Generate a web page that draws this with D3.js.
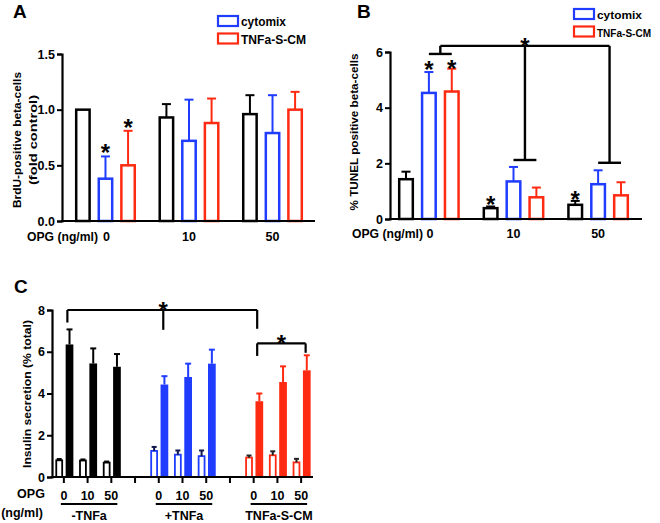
<!DOCTYPE html>
<html><head><meta charset="utf-8">
<script src="https://cdn.jsdelivr.net/npm/d3@7"></script>
<style>
html,body{margin:0;padding:0;background:#fff;}
svg text{font-family:"Liberation Sans",Arial,sans-serif;font-weight:bold;}
</style></head>
<body>
<svg id="c" width="660" height="523"></svg>
<script>
// ---------- DATA ----------
const opgLevels = ["0", "10", "50"];
const seriesAB = ["control", "cytomix", "TNFa-S-CM"];
const legendLabels = ["cytomix", "TNFa-S-CM"];

// Panel A: BrdU-positive beta-cells (fold control)
const brduMean = {control: [1.0, 0.93, 0.96], cytomix: [0.38, 0.72, 0.79], "TNFa-S-CM": [0.50, 0.88, 1.00]};
const brduErr  = {control: [0.0, 0.12, 0.17], cytomix: [0.20, 0.37, 0.34], "TNFa-S-CM": [0.31, 0.22, 0.16]};
const ticksA = [0, 0.5, 1.0, 1.5];

// Panel B: % TUNEL positive beta-cells
const tunelMean = {control: [1.43, 0.39, 0.51], cytomix: [4.53, 1.35, 1.25], "TNFa-S-CM": [4.58, 0.78, 0.85]};
const tunelErr  = {control: [0.27, 0.06, 0.14], cytomix: [0.75, 0.52, 0.50], "TNFa-S-CM": [0.82, 0.35, 0.47]};
const ticksB = [0, 2, 4, 6];

// Panel C: Insulin secretion (% total)
const conditionsC = ["-TNFa", "+TNFa", "TNFa-S-CM"];
const basalMean = [[0.80, 0.79, 0.69], [1.25, 1.07, 1.00], [0.93, 1.04, 0.70]];
const basalErr  = [[0.06, 0.05, 0.05], [0.19, 0.20, 0.27], [0.10, 0.19, 0.17]];
const stimMean  = [[6.35, 5.44, 5.28], [4.43, 4.79, 5.43], [3.63, 4.55, 5.11]];
const stimErr   = [[0.72, 0.72, 0.61], [0.40, 0.64, 0.67], [0.37, 0.75, 0.72]];
const ticksC = [0, 2, 4, 6, 8];

const colors = {control: "#000000", cytomix: "#1f3cff", "TNFa-S-CM": "#ff2a12"};
const colorC = ["#000000", "#1f3cff", "#ff2a12"];

// ---------- DRAW ----------
const svg = d3.select("#c");

function yAxis(g, y, ticks, fmt, x0) {
  const ax = g.append("g").attr("transform", `translate(${x0},0)`)
    .call(d3.axisLeft(y).tickValues(ticks).tickFormat(fmt).tickSize(5).tickPadding(2));
  ax.select(".domain").attr("stroke", "#000").attr("stroke-width", 2.2);
  ax.selectAll(".tick line").attr("stroke-width", 2);
  ax.selectAll("text").attr("font-size", 12.5).attr("fill", "#000").style("font-weight", "bold");
  return ax;
}

function errBar(g, cx, yTop, yErr, color, cap) {
  g.append("line").attr("x1", cx).attr("x2", cx).attr("y1", yTop).attr("y2", yErr)
    .attr("stroke", color).attr("stroke-width", 2);
  g.append("line").attr("x1", cx - cap / 2).attr("x2", cx + cap / 2).attr("y1", yErr).attr("y2", yErr)
    .attr("stroke", color).attr("stroke-width", 2);
}

// star centred at (x, cy)
function star(g, x, cy) {
  g.append("text").attr("x", x).attr("y", cy + 13).attr("text-anchor", "middle")
    .attr("font-size", 24).attr("fill", "#000").text("*");
}

function txt(g, x, y, s, size, len, anchor) {
  const t = g.append("text").attr("x", x).attr("y", y).attr("font-size", size).text(s);
  if (anchor) t.attr("text-anchor", anchor);
  if (len) t.attr("textLength", len).attr("lengthAdjust", "spacingAndGlyphs");
  return t;
}

function vlabel(g, x, cy, s, size, len) {
  g.append("text").attr("transform", `translate(${x},${cy}) rotate(-90)`).attr("text-anchor", "middle")
    .attr("font-size", size).attr("textLength", len).attr("lengthAdjust", "spacingAndGlyphs").text(s);
}

function legend(g, x, y, lens, size) {
  legendLabels.forEach((s, i) => {
    g.append("rect").attr("x", x).attr("y", y + i * 17.5).attr("width", 20).attr("height", 10)
      .attr("fill", "none").attr("stroke", colors[s]).attr("stroke-width", 2.2);
    txt(g, x + 23, y + i * 17.5 + 10, s, size, lens[i]);
  });
}

function groupedPanel(opts) {
  const g = svg.append("g");
  const x = d3.scaleBand().domain(opgLevels).range(opts.xr).paddingInner(0.27).paddingOuter(0);
  const xi = d3.scaleBand().domain(seriesAB).range([0, x.bandwidth()]).paddingInner(0.3);
  const y = d3.scaleLinear().domain(opts.yd).range(opts.yr);
  seriesAB.forEach(s => {
    opgLevels.forEach((o, k) => {
      const bx = x(o) + xi(s), bw = xi.bandwidth();
      const v = opts.mean[s][k], e = opts.err[s][k];
      g.append("rect").attr("x", bx + 1.2).attr("y", y(v)).attr("width", bw - 2.4)
        .attr("height", y(0) - y(v)).attr("fill", "#fff").attr("stroke", colors[s]).attr("stroke-width", 2.5);
      if (e > 0) errBar(g, bx + bw / 2, y(v), y(v + e), colors[s], 9);
    });
  });
  yAxis(g, y, opts.ticks, opts.fmt, opts.ax[0]);
  g.append("line").attr("x1", opts.ax[0] - 1).attr("x2", opts.ax[1]).attr("y1", y(0)).attr("y2", y(0))
    .attr("stroke", "#000").attr("stroke-width", 2.2);
  opgLevels.forEach(o => {
    txt(g, x(o) + x.bandwidth() / 2 + (o === "0" ? 1 : 0), y(0) + opts.lblDy, o, 12.5, null, "middle");
  });
  txt(g, opts.opgX, y(0) + opts.lblDy, "OPG (ng/ml)", 12.5, opts.opgLen);
  return {g, x, xi, y};
}

// Panel A
const A = groupedPanel({xr: [75, 303], ax: [62, 315], yd: [0, 1.5], yr: [221, 54], mean: brduMean, err: brduErr,
  ticks: ticksA, fmt: d3.format(".1f"), opgX: 27, opgLen: 71, lblDy: 20});
vlabel(A.g, 21, 140, "BrdU-positive beta-cells", 11.5, 136);
vlabel(A.g, 37, 140, "(fold control)", 11.5, 90);
txt(A.g, 13, 17.5, "A", 19);
legend(A.g, 218, 16, [45, 65], 12.5);
{
  const cxs = s => A.x("0") + A.xi(s) + A.xi.bandwidth() / 2;
  star(A.g, cxs("cytomix"), A.y(brduMean.cytomix[0] + brduErr.cytomix[0]) - 8);
  star(A.g, cxs("TNFa-S-CM"), A.y(brduMean["TNFa-S-CM"][0] + brduErr["TNFa-S-CM"][0]) - 8);
}

// Panel B
const B = groupedPanel({xr: [398, 629], ax: [390, 642], yd: [0, 6], yr: [219, 52], mean: tunelMean, err: tunelErr,
  ticks: ticksB, fmt: d3.format("d"), opgX: 352, opgLen: 71, lblDy: 19});
vlabel(B.g, 358, 132, "% TUNEL  positive beta-cells", 11.5, 157);
txt(B.g, 357, 17.5, "B", 19);
legend(B.g, 574, 9, [45, 54], 11);
{
  const cx = (o, s) => B.x(o) + B.xi(s) + B.xi.bandwidth() / 2;
  const y = B.y, g = B.g;
  const line = (x1, y1, x2, y2) => g.append("line").attr("x1", x1).attr("y1", y1).attr("x2", x2).attr("y2", y2)
    .attr("stroke", "#000").attr("stroke-width", 2.4);
  star(g, cx("0", "cytomix"), y(tunelMean.cytomix[0] + tunelErr.cytomix[0]) - 7);
  star(g, cx("0", "TNFa-S-CM"), y(tunelMean["TNFa-S-CM"][0] + tunelErr["TNFa-S-CM"][0]) - 5);
  star(g, cx("10", "control"), y(tunelMean.control[1] + tunelErr.control[1]) - 6);
  star(g, cx("50", "control"), y(tunelMean.control[2] + tunelErr.control[2]) - 6);
  const l0 = cx("0", "cytomix"), r0 = cx("0", "TNFa-S-CM"), m0 = (l0 + r0) / 2;
  const l1 = cx("10", "cytomix"), r1 = cx("10", "TNFa-S-CM"), m1 = (l1 + r1) / 2;
  const l2 = cx("50", "cytomix"), r2 = cx("50", "TNFa-S-CM"), m2 = (l2 + r2) / 2;
  line(l0, y(5.93), r0, y(5.93));
  line(m0, y(5.93), m0, y(6.22));
  line(m0, y(6.22), m2, y(6.22));
  line(m1, y(6.22), m1, y(2.12));
  line(l1, y(2.12), r1, y(2.12));
  line(m2, y(6.22), m2, y(2.02));
  line(l2, y(2.02), r2, y(2.02));
  star(g, m1, y(6.22) - 4);
}

// Panel C
{
  const g = svg.append("g");
  const slots = [];
  conditionsC.forEach((c, ci) => {
    opgLevels.forEach((o, oi) => slots.push({c: ci, o: oi, label: o}));
    if (ci < conditionsC.length - 1) slots.push({c: -1, o: -1, label: ""});
  });
  const x = d3.scaleBand().domain(d3.range(slots.length)).range([52, 313]).padding(0);
  const xi = d3.scaleBand().domain(["basal", "stim"]).range([-8.5, 9.5]).paddingInner(0.25);
  const y = d3.scaleLinear().domain([0, 8]).range([477, 310]);
  const ctr = i => x(i) + x.bandwidth() / 2;

  slots.forEach((s, i) => {
    if (s.c < 0) return;
    const col = colorC[s.c];
    const bw = xi.bandwidth();
    const bv = basalMean[s.c][s.o], be = basalErr[s.c][s.o];
    const bx = ctr(i) + xi("basal");
    g.append("rect").attr("x", bx + 0.9).attr("y", y(bv)).attr("width", bw - 1.8).attr("height", y(0) - y(bv))
      .attr("fill", "#fff").attr("stroke", col).attr("stroke-width", 1.8);
    errBar(g, bx + bw / 2, y(bv), y(bv + be), s.c === 2 ? "#222" : (s.c === 1 ? "#101850" : "#000"), 5);
    const sv = stimMean[s.c][s.o], se = stimErr[s.c][s.o];
    const sx = ctr(i) + xi("stim");
    g.append("rect").attr("x", sx).attr("y", y(sv)).attr("width", bw).attr("height", y(0) - y(sv)).attr("fill", col);
    errBar(g, sx + bw / 2, y(sv), y(sv + se), col, 6);
  });

  yAxis(g, y, ticksC, d3.format("d"), 52);
  const xa = g.append("g").attr("transform", `translate(0,${y(0)})`)
    .call(d3.axisBottom(x).tickFormat(i => slots[i].label).tickSize(6).tickPadding(8));
  xa.select(".domain").attr("stroke-width", 2.2).attr("d", `M51,0H313`);
  xa.selectAll(".tick line").attr("stroke-width", 2);
  xa.selectAll("text").attr("font-size", 12.5).attr("fill", "#000").style("font-weight", "bold");

  conditionsC.forEach((c, ci) => {
    const i0 = ci * 4, i1 = ci * 4 + 2;
    const a = ctr(i0) - 3, b = ctr(i1) + 6;
    g.append("line").attr("x1", a).attr("x2", b).attr("y1", 504).attr("y2", 504).attr("stroke", "#000").attr("stroke-width", 2);
    txt(g, (a + b) / 2, 519.5, c, 12.5, null, "middle");
  });
  txt(g, 31, 498, "OPG", 12.5, null, "middle");
  txt(g, 22, 516.5, "(ng/ml)", 12.5, null, "middle");

  vlabel(g, 31, 394, "Insulin secretion (% total)", 11.5, 148);
  txt(g, 14, 292.5, "C", 19);

  const line = (x1, y1, x2, y2) => g.append("line").attr("x1", x1).attr("y1", y1).attr("x2", x2).attr("y2", y2)
    .attr("stroke", "#000").attr("stroke-width", 2.2);
  const L = ctr(0) + 3.5, R = ctr(8) + 3.5, M = ctr(4) + 4.5, R2 = ctr(10) + 4.5;
  line(L, y(8), R, y(8));
  line(L, y(8), L, y(7.4));
  line(R, y(8), R, y(7.1));
  line(M, y(8), M, y(7.05));
  star(g, M, y(8) - 4);
  line(R, y(6.4), R2, y(6.4));
  line(R, y(6.4), R, y(5.8));
  line(R2, y(6.4), R2, y(5.95));
  star(g, (R + R2) / 2, y(6.4) - 4);
}
</script>
</body></html>
